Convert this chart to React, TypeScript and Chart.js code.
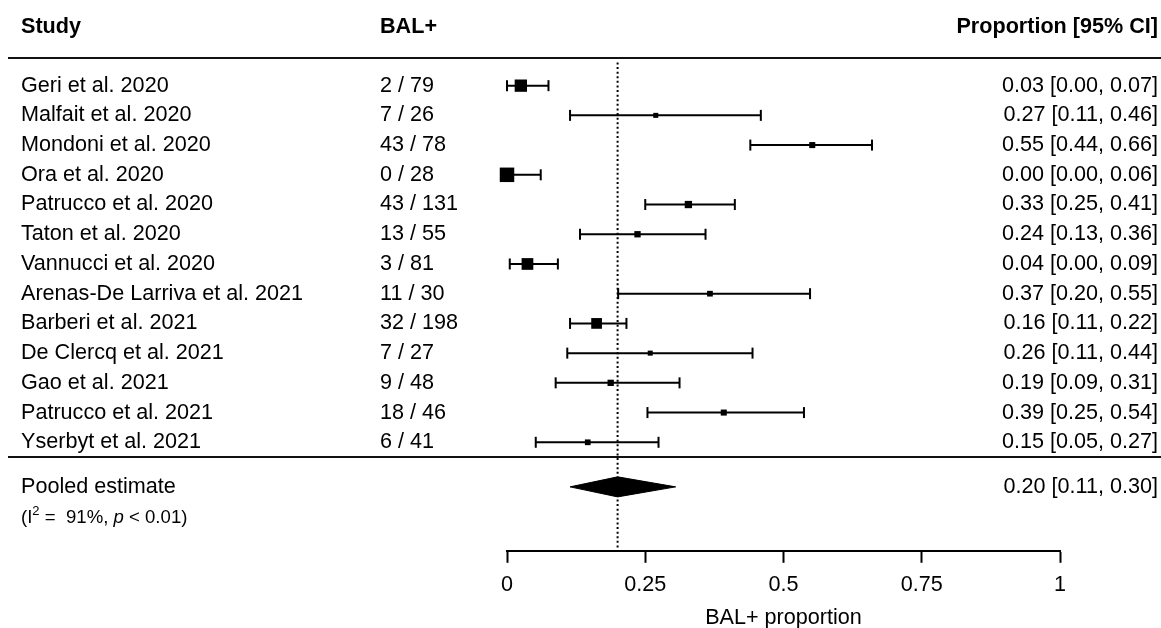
import { useEffect, useRef } from 'react';
import { Chart, registerables } from 'chart.js';

Chart.register(...registerables);

// ---------- data ----------
const studies = [
  'Geri et al. 2020',
  'Malfait et al. 2020',
  'Mondoni et al. 2020',
  'Ora et al. 2020',
  'Patrucco et al. 2020',
  'Taton et al. 2020',
  'Vannucci et al. 2020',
  'Arenas-De Larriva et al. 2021',
  'Barberi et al. 2021',
  'De Clercq et al. 2021',
  'Gao et al. 2021',
  'Patrucco et al. 2021',
  'Yserbyt et al. 2021',
];
const balPositive = [2, 7, 43, 0, 43, 13, 3, 11, 32, 7, 9, 18, 6];
const balTotal = [79, 26, 78, 28, 131, 55, 81, 30, 198, 27, 48, 46, 41];
const estimates = [0.025, 0.269, 0.552, 0.0, 0.328, 0.236, 0.037, 0.367, 0.162, 0.259, 0.1875, 0.392, 0.146];
const lowerCI = [0.0, 0.114, 0.44, 0.0, 0.25, 0.132, 0.005, 0.201, 0.114, 0.109, 0.088, 0.254, 0.052];
const upperCI = [0.075, 0.459, 0.66, 0.061, 0.412, 0.359, 0.092, 0.548, 0.216, 0.444, 0.312, 0.537, 0.274];
const weights = [16.2, 2.7, 3.9, 22.5, 5.7, 4.3, 14.7, 3.5, 12.3, 2.7, 4.3, 3.9, 3.5];
const ciLabels = [
  '0.03 [0.00, 0.07]',
  '0.27 [0.11, 0.46]',
  '0.55 [0.44, 0.66]',
  '0.00 [0.00, 0.06]',
  '0.33 [0.25, 0.41]',
  '0.24 [0.13, 0.36]',
  '0.04 [0.00, 0.09]',
  '0.37 [0.20, 0.55]',
  '0.16 [0.11, 0.22]',
  '0.26 [0.11, 0.44]',
  '0.19 [0.09, 0.31]',
  '0.39 [0.25, 0.54]',
  '0.15 [0.05, 0.27]',
];
const pooledEstimate = 0.2;
const pooledLower = 0.114;
const pooledUpper = 0.305;
const pooledLabel = '0.20 [0.11, 0.30]';
const tickValues = [0, 0.25, 0.5, 0.75, 1];
const tickLabels = ['0', '0.25', '0.5', '0.75', '1'];
const headers = ['Study', 'BAL+', 'Proportion [95% CI]'];
const pooledTitle = 'Pooled estimate';
const axisTitle = 'BAL+ proportion';

// ---------- layout constants (row units on the hidden y scale) ----------
const FONT = '"Liberation Sans", Arial, Helvetica, sans-serif';
const FS = 21.6;
const Y_MIN = -2.537;
const Y_MAX = 15.651;
const HEADER_ROW = -1.98;
const HEADER_LINE_ROW = -0.945;
const POOLED_ROW = 13.5;
const SEP_ROW = 12.48;
const HET_ROW = 14.54;
const DOT_TOP_ROW = -0.78;
const DIAMOND_HALF = 0.337;

const forestText = {
  id: 'forestText',
  afterDatasetsDraw(chart: any) {
    const { ctx, scales } = chart;
    const y = scales.y;
    const py = (r: number) => y.getPixelForValue(r);
    ctx.save();
    ctx.fillStyle = '#000';
    ctx.textBaseline = 'middle';

    // headers
    ctx.font = `bold ${FS}px ${FONT}`;
    ctx.textAlign = 'left';
    ctx.fillText(headers[0], 21, py(HEADER_ROW));
    ctx.fillText(headers[1], 380, py(HEADER_ROW));
    ctx.textAlign = 'right';
    ctx.fillText(headers[2], 1158, py(HEADER_ROW));

    // separator lines
    ctx.strokeStyle = '#111';
    ctx.lineWidth = 2;
    [HEADER_LINE_ROW, SEP_ROW].forEach((r) => {
      const yy = Math.round(py(r));
      ctx.beginPath();
      ctx.moveTo(8, yy);
      ctx.lineTo(1161, yy);
      ctx.stroke();
    });

    // rows
    ctx.font = `${FS}px ${FONT}`;
    studies.forEach((s, i) => {
      const yy = py(i);
      ctx.textAlign = 'left';
      ctx.fillText(s, 21, yy);
      ctx.fillText(`${balPositive[i]} / ${balTotal[i]}`, 380, yy);
      ctx.textAlign = 'right';
      ctx.fillText(ciLabels[i], 1158, yy);
    });

    // pooled
    ctx.textAlign = 'left';
    ctx.fillText(pooledTitle, 21, py(POOLED_ROW));
    ctx.textAlign = 'right';
    ctx.fillText(pooledLabel, 1158, py(POOLED_ROW));

    // heterogeneity
    const hy = py(HET_ROW);
    let x = 21;
    ctx.textAlign = 'left';
    const small = 18.6;
    const seg = (t: string, font: string, dy = 0) => {
      ctx.font = font;
      ctx.fillText(t, x, hy + dy);
      x += ctx.measureText(t).width;
    };
    seg('(I', `${small}px ${FONT}`);
    seg('2', `${small * 0.7}px ${FONT}`, -6.5);
    seg(' =  91%, ', `${small}px ${FONT}`);
    seg('p', `italic ${small}px ${FONT}`);
    seg(' < 0.01)', `${small}px ${FONT}`);
    ctx.restore();
  },
};

export default function App() {
  const ref = useRef<HTMLCanvasElement | null>(null);

  useEffect(() => {
    if (!ref.current) return;
    document.body.style.margin = '0';

    const whiskerSets = studies.map((_, i) => ({
      label: `ci-${i}`,
      data: [
        { x: lowerCI[i], y: i },
        { x: upperCI[i], y: i },
      ],
      showLine: true,
      borderColor: '#000',
      borderWidth: 2,
      pointStyle: 'line',
      pointRotation: 90,
      pointRadius: 5.5,
      pointBorderWidth: 2,
      pointBorderColor: '#000',
      pointBackgroundColor: '#000',
      clip: false,
    }));

    const boxSet = {
      label: 'estimates',
      data: estimates.map((v, i) => ({ x: v, y: i })),
      showLine: false,
      pointStyle: 'rect',
      pointRadius: weights.map((w) => (3.057 * Math.sqrt(w)) / Math.SQRT2),
      pointBackgroundColor: '#000',
      pointBorderWidth: 0,
      clip: false,
    };

    const diamondSet = {
      label: 'pooled',
      data: [
        { x: pooledLower, y: POOLED_ROW },
        { x: pooledEstimate, y: POOLED_ROW - DIAMOND_HALF },
        { x: pooledUpper, y: POOLED_ROW },
        { x: pooledEstimate, y: POOLED_ROW + DIAMOND_HALF },
        { x: pooledLower, y: POOLED_ROW },
      ],
      showLine: true,
      fill: 'shape',
      backgroundColor: '#000',
      borderColor: '#000',
      borderWidth: 1,
      pointRadius: 0,
      tension: 0,
      clip: false,
    };

    const refLine = {
      label: 'ref',
      data: [
        { x: pooledEstimate, y: DOT_TOP_ROW },
        { x: pooledEstimate, y: Y_MAX },
      ],
      showLine: true,
      borderColor: '#000',
      borderWidth: 2,
      borderDash: [2, 2.6],
      pointRadius: 0,
      clip: false,
    };

    const chart = new Chart(ref.current, {
      type: 'scatter',
      data: { datasets: [boxSet, diamondSet, ...whiskerSets, refLine] as any },
      options: {
        animation: false,
        responsive: false,
        devicePixelRatio: 1,
        layout: { padding: { left: 507, right: 101, top: 0, bottom: 0 } },
        plugins: { legend: { display: false }, tooltip: { enabled: false }, title: { display: false } },
        scales: {
          x: {
            type: 'linear',
            position: 'bottom',
            min: 0,
            max: 1,
            afterBuildTicks: (scale: any) => {
              scale.ticks = tickValues.map((v) => ({ value: v }));
            },
            grid: {
              display: true,
              drawOnChartArea: false,
              drawTicks: true,
              tickLength: 12,
              tickWidth: 2,
              tickColor: '#000',
              color: '#000',
            },
            border: { display: true, color: '#000', width: 2 },
            ticks: {
              autoSkip: false,
              maxRotation: 0,
              padding: 11.5,
              color: '#000',
              font: { family: FONT, size: FS, lineHeight: 1 },
              callback: (_v: any, idx: number) => tickLabels[idx],
            },
            title: {
              display: true,
              text: axisTitle,
              color: '#000',
              font: { family: FONT, size: FS, lineHeight: 1 },
              padding: { top: 0, bottom: -1 },
            },
          },
          y: {
            type: 'linear',
            display: false,
            reverse: true,
            min: Y_MIN,
            max: Y_MAX,
          },
        },
      } as any,
      plugins: [forestText],
    });
    return () => chart.destroy();
  }, []);

  return (
    <div style={{ position: 'fixed', left: 0, top: 0, width: 1161, height: 628, background: '#fff' }}>
      <canvas ref={ref} width={1161} height={628} style={{ width: 1161, height: 628 }} />
    </div>
  );
}
